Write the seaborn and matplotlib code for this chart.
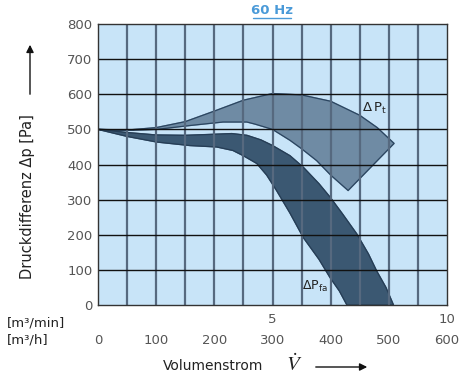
import matplotlib
matplotlib.use("Agg")
import matplotlib.pyplot as plt
from matplotlib.lines import Line2D
from matplotlib.patches import FancyArrowPatch
import seaborn as sns
import pandas as pd

pt_upper_x = [0, 50, 100, 150, 200, 250, 300, 350, 400, 450, 480, 509]
pt_upper_y = [500, 498, 505, 522, 552, 583, 602, 598, 580, 540, 505, 460]
pt_lower_x = [430, 400, 376, 350, 330, 300, 270, 256, 215, 158, 101, 50, 0]
pt_lower_y = [326, 370, 411, 445, 469, 500, 515, 521, 521, 511, 500, 497, 500]

pfa_upper_x = [0, 50, 100, 150, 200, 230, 256, 280, 300, 330, 353, 380, 399, 420, 445, 465, 479, 495, 508]
pfa_upper_y = [500, 491, 484, 483, 486, 488, 483, 470, 454, 425, 392, 345, 307, 260, 202, 145, 97, 50, 0]
pfa_lower_x = [428, 415, 399, 380, 353, 330, 307, 290, 273, 250, 232, 204, 158, 101, 50, 0]
pfa_lower_y = [0, 40, 78, 130, 192, 262, 326, 370, 403, 425, 440, 450, 454, 464, 480, 500]

xticks_h = [0, 100, 200, 300, 400, 500, 600]
xticks_min = [5, 10]
yticks = [0, 100, 200, 300, 400, 500, 600, 700, 800]

sns.set_style("white")
plt.rcParams['font.family'] = ['DejaVu Sans']

fig = plt.figure(figsize=(4.7, 3.81), dpi=100)
ax = fig.add_axes([98 / 470, 1 - 305 / 381, 349 / 470, 281 / 381])
ax.set_facecolor('#c8e4f8')

# Bänder
pt = pd.DataFrame({'x': pt_upper_x + pt_lower_x, 'y': pt_upper_y + pt_lower_y})
pfa = pd.DataFrame({'x': pfa_upper_x + pfa_lower_x, 'y': pfa_upper_y + pfa_lower_y})
ax.fill(pt['x'], pt['y'], color='#6f8ba4', zorder=2)
ax.fill(pfa['x'], pfa['y'], color='#3b5872', zorder=2.1)
sns.lineplot(data=pt, x='x', y='y', sort=False, estimator=None, color='#2b4560',
             lw=0.9, ax=ax, zorder=2.2)
sns.lineplot(data=pfa, x='x', y='y', sort=False, estimator=None, color='#263d55',
             lw=0.9, ax=ax, zorder=2.2)

# Gitter
for gx in range(50, 600, 50):
    ax.axvline(gx, color='#56697f', lw=1.6, zorder=3)
for gy in range(100, 800, 100):
    ax.axhline(gy, color='#111111', lw=1.0, zorder=3)

ax.set_xlim(0, 600)
ax.set_ylim(0, 800)
ax.set_yticks(yticks)
ax.set_xticks(xticks_h)
ax.set_xticklabels([str(v) for v in xticks_h])
ax.tick_params(axis='y', length=3, width=1, color='#333333', labelsize=9.5,
               labelcolor='#555555', pad=1)
ax.tick_params(axis='x', length=0, labelsize=9.5, labelcolor='#555555', pad=21)
for s in ax.spines.values():
    s.set_color('#333333')
    s.set_linewidth(1.0)
    s.set_zorder(4)
ax.set_xlabel('')
ax.set_ylabel('')

sec = ax.secondary_xaxis('bottom', functions=(lambda v: v / 60.0, lambda v: v * 60.0))
sec.set_xticks(xticks_min)
sec.tick_params(length=0, labelsize=9.5, labelcolor='#555555', pad=6)
sec.spines['bottom'].set_visible(False)

# Beschriftungen der Bänder
fig.text(362 / 470, 1 - 108 / 381, r'$\Delta\,\mathrm{P}_\mathrm{t}$', fontsize=9.5,
         color='#222222', va='center')
fig.text(302 / 470, 1 - 286 / 381, r'$\Delta\mathrm{P}_\mathrm{fa}$', fontsize=9,
         color='#222222', va='center')

# Titel
fig.text(272 / 470, 1 - 10 / 381, '60 Hz', ha='center', va='center', fontsize=9.5,
         fontweight='bold', color='#4a9ad8')
fig.add_artist(Line2D([253 / 470, 291 / 470], [1 - 18 / 381, 1 - 18 / 381],
                      color='#4a9ad8', lw=1))

# Einheiten links
fig.text(7 / 470, 1 - 323 / 381, '[m³/min]', fontsize=9.5, color='#222222', va='center')
fig.text(7 / 470, 1 - 340 / 381, '[m³/h]', fontsize=9.5, color='#222222', va='center')

# Achsentitel
fig.text(163 / 470, 1 - 366 / 381, 'Volumenstrom', fontsize=10, color='#222222', va='center')
fig.text(286 / 470, 1 - 364 / 381, r'$\dot{V}$', fontsize=15, color='#222222', va='center',
         math_fontfamily='stix')
fig.add_artist(FancyArrowPatch(
    (313 / 470, 1 - 367 / 381), (370 / 470, 1 - 367 / 381), transform=fig.transFigure,
    arrowstyle='-|>', mutation_scale=11, color='#111111', lw=1))

fig.text(28 / 470, 1 - 197 / 381, 'Druckdifferenz Δp [Pa]', rotation=90, fontsize=10.5,
         color='#222222', ha='center', va='center')
fig.add_artist(FancyArrowPatch(
    (30 / 470, 1 - 97 / 381), (30 / 470, 1 - 42 / 381), transform=fig.transFigure,
    arrowstyle='-|>', mutation_scale=11, color='#111111', lw=1))

fig.savefig('out.png', dpi=100)
